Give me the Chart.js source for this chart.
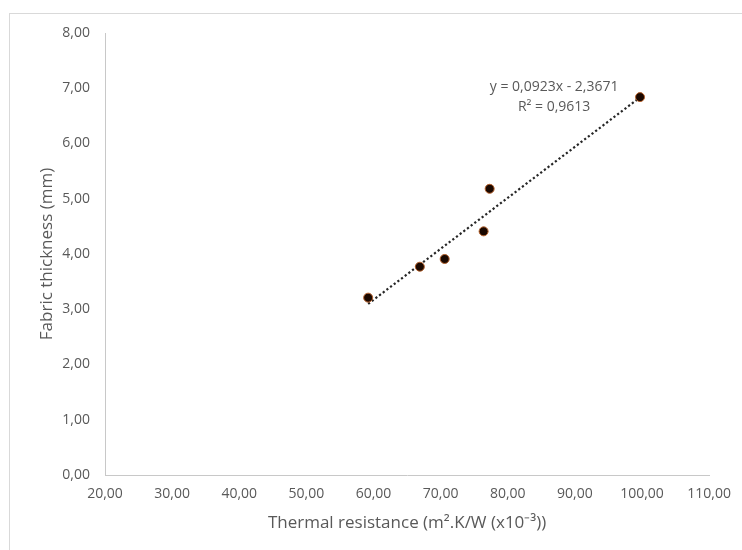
<!DOCTYPE html>
<html>
<head>
<meta charset="utf-8">
<script src="https://cdn.jsdelivr.net/npm/chart.js@4.4.1/dist/chart.umd.min.js"></script>
<style>
  html, body { margin: 0; padding: 0; background: #fff; overflow: hidden; }
  #frame { position: absolute; left: 9px; top: 13px; width: 900px; height: 700px; border: 1px solid #d9d9d9; }
  #wrap { position: absolute; left: 0; top: 0; width: 742px; height: 550px; }
</style>
</head>
<body>
<div id="frame"></div>
<div id="wrap"><canvas id="myChart" width="742" height="550"></canvas></div>
<script>
// measured points (thermal resistance x10^-3, fabric thickness mm)
const resistance = [59.2, 66.9, 70.6, 76.4, 77.3, 99.7];
const thickness = [3.21, 3.77, 3.91, 4.41, 5.18, 6.84];

// linear trend shown on the chart
const slope = 0.0923;
const intercept = -2.3671;
const eqText = ['y = 0,0923x - 2,3671', 'R\u00b2 = 0,9613'];

const xTicks = [20, 30, 40, 50, 60, 70, 80, 90, 100, 110];
const yTicks = [0, 1, 2, 3, 4, 5, 6, 7, 8];

const textGray = '#595959';
const tickFont = { family: 'Open Sans', size: 14 };
const titleFont = { family: 'Open Sans', size: 17 };

const points = resistance.map((x, i) => ({ x: x, y: thickness[i] }));
const xMin = Math.min(...resistance);
const xMax = Math.max(...resistance);
const trend = [
  { x: xMin, y: slope * xMin + intercept },
  { x: xMax, y: slope * xMax + intercept }
];

function fmt(v) {
  return v.toFixed(2).replace('.', ',');
}

// draws the trendline equation next to the line
const eqLabel = {
  id: 'eqLabel',
  afterDraw(chart) {
    const ctx = chart.ctx;
    const xs = chart.scales.x, ys = chart.scales.y;
    const px = xs.getPixelForValue(86.9);
    const py = ys.getPixelForValue(6.85);
    ctx.save();
    ctx.font = '14px "Open Sans"';
    ctx.fillStyle = textGray;
    ctx.textAlign = 'center';
    ctx.textBaseline = 'middle';
    ctx.fillText(eqText[0], px, py - 9.5);
    ctx.fillText(eqText[1], px, py + 10);
    ctx.restore();
  }
};

new Chart(document.getElementById('myChart'), {
  type: 'scatter',
  data: {
    datasets: [
      {
        label: 'Trend',
        type: 'line',
        data: trend,
        borderColor: '#262626',
        borderWidth: 2.2,
        borderDash: [2.2, 2.4],
        pointRadius: 0,
        fill: false,
        order: 2
      },
      {
        label: 'Fabric thickness',
        data: points,
        backgroundColor: '#1a0800',
        borderColor: '#b5602a',
        borderWidth: 1,
        pointRadius: 4.5,
        order: 1
      }
    ]
  },
  options: {
    responsive: false,
    animation: false,
    layout: { padding: { left: 0, top: 33, right: 30, bottom: 0 } },
    plugins: {
      legend: { display: false },
      tooltip: { enabled: false }
    },
    scales: {
      x: {
        type: 'linear',
        min: 20,
        max: 110,
        afterBuildTicks: (s) => { s.ticks = xTicks.map(v => ({ value: v })); },
        afterFit: (s) => { s.height = 75; },
        grid: { display: false, drawTicks: false },
        border: { display: true, color: '#c8c8c8', width: 1 },
        ticks: { color: textGray, font: tickFont, padding: 11, maxRotation: 0, callback: fmt },
        title: {
          display: true,
          text: 'Thermal resistance (m\u00b2.K/W (x10\u207b\u00b3))',
          color: textGray,
          font: titleFont,
          padding: { top: 0, bottom: 17 }
        }
      },
      y: {
        type: 'linear',
        min: 0,
        max: 8,
        afterBuildTicks: (s) => { s.ticks = yTicks.map(v => ({ value: v })); },
        afterFit: (s) => { s.width = 105; },
        grid: { display: false, drawTicks: false },
        border: { display: true, color: '#c8c8c8', width: 1 },
        ticks: { color: textGray, font: tickFont, padding: 15, callback: fmt },
        title: {
          display: true,
          text: 'Fabric thickness (mm)',
          color: textGray,
          font: titleFont,
          padding: { top: 37, bottom: 0 }
        }
      }
    }
  },
  plugins: [eqLabel]
});
</script>
</body>
</html>
